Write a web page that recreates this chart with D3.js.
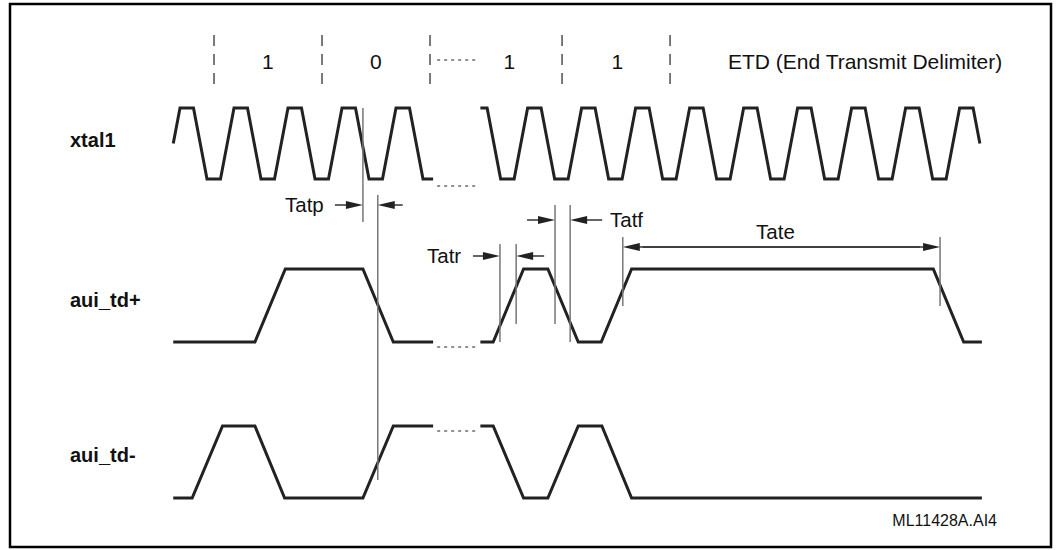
<!DOCTYPE html>
<html>
<head>
<meta charset="utf-8">
<script src="https://cdn.jsdelivr.net/npm/d3@7"></script>
<style>
  body { margin: 0; background: #fff; }
  text { font-family: "Liberation Sans", Arial, Helvetica, sans-serif; fill: #111; }
</style>
</head>
<body>
<div class="timing_container"></div>
<script>
'use strict';

// time is in quarter clock periods, level 0 = low, 1 = high
const xtal1A = [[0.5,0.5],[1,1],[2,1],[3,0],[4,0],[5,1],[6,1],[7,0],[8,0],[9,1],[10,1],[11,0],[12,0],
  [13,1],[14,1],[15,0],[16,0],[17,1],[18,1],[19,0],[19.75,0]];
const xtal1B = [[23.25,1],[23.75,1],[24.75,0],[25.75,0],[26.75,1],[27.75,1],[28.75,0],[29.75,0],
  [30.75,1],[31.75,1],[32.75,0],[33.75,0],[34.75,1],[35.75,1],[36.75,0],[37.75,0],[38.75,1],[39.75,1],
  [40.75,0],[41.75,0],[42.75,1],[43.75,1],[44.75,0],[45.75,0],[46.75,1],[47.75,1],[48.75,0],[49.75,0],
  [50.75,1],[51.75,1],[52.75,0],[53.75,0],[54.75,1],[55.75,1],[56.75,0],[57.75,0],[58.75,1],[59.75,1],[60.25,0.5]];
const tdPlusA = [[0.5,0],[6.55,0],[8.8,1],[14.55,1],[16.8,0],[19.75,0]];
const tdPlusB = [[23.25,0],[24.2,0],[26.45,1],[28.25,1],[30.5,0],[32.2,0],[34.45,1],[56.8,1],[59.05,0],[60.4,0]];
const tdMinusA = [[0.5,0],[1.9,0],[4.15,1],[6.55,1],[8.75,0],[14.55,0],[16.8,1],[19.75,1]];
const tdMinusB = [[23.25,1],[24.2,1],[26.45,0],[28.25,0],[30.5,1],[32.25,1],[34.45,0],[60.4,0]];

const bitMarks = [3.52, 11.52, 19.52, 29.3, 37.3];
const bitLabels = ['1', '0', '1', '1'];
const bitLabelT = [7.5, 15.5, 25.4, 33.4];
const breakT = [20.05, 23.1];

const signalNames = ['xtal1', 'aui_td+', 'aui_td-'];

// timing annotations: two edges (t) and their label
const timingNames = ['Tatp', 'Tatr', 'Tatf', 'Tate'];
const timingFrom = [14.55, 24.7, 28.78, 33.8];
const timingTo = [15.65, 25.9, 29.9, 57.3];

const W = 1060, H = 550;
const svg = d3.select('.timing_container').append('svg')
  .attr('width', W).attr('height', H);

svg.append('rect')
  .attr('x', 10).attr('y', 4).attr('width', 1041).attr('height', 543)
  .attr('fill', 'none').attr('stroke', '#000').attr('stroke-width', 2.5);

const x = d3.scaleLinear().domain([0, 60]).range([166.5, 976.5]);

const rows = [
  { wave: [xtal1A, xtal1B], y: d3.scaleLinear().domain([0, 1]).range([179, 108]), labelY: 147, dotLevel: 0, dotOff: 7 },
  { wave: [tdPlusA, tdPlusB], y: d3.scaleLinear().domain([0, 1]).range([342, 269]), labelY: 307, dotLevel: 0, dotOff: 5 },
  { wave: [tdMinusA, tdMinusB], y: d3.scaleLinear().domain([0, 1]).range([498, 426]), labelY: 462, dotLevel: 1, dotOff: 5 }
];

// signal names
svg.selectAll('text.sig')
  .data(signalNames)
.enter().append('text')
  .attr('class', 'sig')
  .attr('x', 70)
  .attr('y', function(d, i) { return rows[i].labelY; })
  .style('font-size', '20px')
  .style('font-weight', 'bold')
  .text(function(d) { return d; });

// waveforms
rows.forEach(function(r) {
  const line = d3.line()
    .x(function(d) { return x(d[0]); })
    .y(function(d) { return r.y(d[1]); });
  svg.selectAll(null)
    .data(r.wave)
  .enter().append('path')
    .attr('d', line)
    .attr('fill', 'none')
    .attr('stroke', '#222')
    .attr('stroke-width', 3)
    .attr('stroke-linejoin', 'miter');
  svg.append('line')
    .attr('x1', x(breakT[0])).attr('x2', x(breakT[1]))
    .attr('y1', r.y(r.dotLevel) + r.dotOff).attr('y2', r.y(r.dotLevel) + r.dotOff)
    .attr('stroke', '#222').attr('stroke-width', 1.2).attr('stroke-dasharray', '3,4');
});

// bit cell markers and labels
svg.selectAll('line.bit')
  .data(bitMarks)
.enter().append('line')
  .attr('class', 'bit')
  .attr('x1', function(d) { return x(d); })
  .attr('x2', function(d) { return x(d); })
  .attr('y1', 35).attr('y2', 85)
  .attr('stroke', '#222').attr('stroke-width', 1.2)
  .attr('stroke-dasharray', '11,8');

svg.append('line')
  .attr('x1', x(breakT[0])).attr('x2', x(breakT[1]))
  .attr('y1', 60).attr('y2', 60)
  .attr('stroke', '#222').attr('stroke-width', 1.2).attr('stroke-dasharray', '3,4');

svg.selectAll('text.bitlbl')
  .data(bitLabels)
.enter().append('text')
  .attr('class', 'bitlbl')
  .attr('x', function(d, i) { return x(bitLabelT[i]); })
  .attr('y', 69)
  .attr('text-anchor', 'middle')
  .style('font-size', '21px')
  .text(function(d) { return d; });

svg.append('text')
  .attr('x', 728).attr('y', 69)
  .style('font-size', '21px')
  .text('ETD (End Transmit Delimiter)');

// timing reference lines
const refLines = [
  [timingFrom[0], 108, 222], [timingTo[0], 195, 480],
  [timingFrom[1], 244, 342], [timingTo[1], 244, 324],
  [timingFrom[2], 205, 324], [timingTo[2], 205, 342],
  [timingFrom[3], 237, 306], [timingTo[3], 237, 306]
];
svg.selectAll('line.ref')
  .data(refLines)
.enter().append('line')
  .attr('class', 'ref')
  .attr('x1', function(d) { return x(d[0]); })
  .attr('x2', function(d) { return x(d[0]); })
  .attr('y1', function(d) { return d[1]; })
  .attr('y2', function(d) { return d[2]; })
  .attr('stroke', '#777').attr('stroke-width', 1.5);

function arrow(x0, x1, y) {
  const dir = x1 > x0 ? 1 : -1;
  svg.append('line')
    .attr('x1', x0).attr('x2', x1 - dir * 14).attr('y1', y).attr('y2', y)
    .attr('stroke', '#333').attr('stroke-width', 1.5);
  svg.append('path')
    .attr('d', 'M' + x1 + ',' + y + 'L' + (x1 - dir * 17) + ',' + (y - 4) + 'L' + (x1 - dir * 17) + ',' + (y + 4) + 'Z')
    .attr('fill', '#222');
}

// Tatp, Tatr, Tatf: arrows pointing inward
const inArrowY = [205, 256, 220];
const inArrowLen = [28, 27, 28];
[0, 1, 2].forEach(function(i) {
  const a = x(timingFrom[i]), b = x(timingTo[i]);
  arrow(a - inArrowLen[i], a, inArrowY[i]);
  arrow(b + (i === 0 ? 25 : 24 + i * 4), b, inArrowY[i]);
});
// Tate: double headed
arrow(x(timingTo[3]) - 20, x(timingFrom[3]), 247);
arrow(x(timingFrom[3]) + 20, x(timingTo[3]), 247);

const lblX = [285, 427, 610, (x(timingFrom[3]) + x(timingTo[3])) / 2 - 6];
const lblY = [212, 263, 227, 239];
svg.selectAll('text.tlbl')
  .data(timingNames)
.enter().append('text')
  .attr('class', 'tlbl')
  .attr('x', function(d, i) { return lblX[i]; })
  .attr('y', function(d, i) { return lblY[i]; })
  .attr('text-anchor', function(d, i) { return i === 3 ? 'middle' : 'start'; })
  .style('font-size', '20.5px')
  .text(function(d) { return d; });

svg.append('text')
  .attr('x', 997).attr('y', 526)
  .attr('text-anchor', 'end')
  .style('font-size', '16px')
  .text('ML11428A.AI4');
</script>
</body>
</html>
